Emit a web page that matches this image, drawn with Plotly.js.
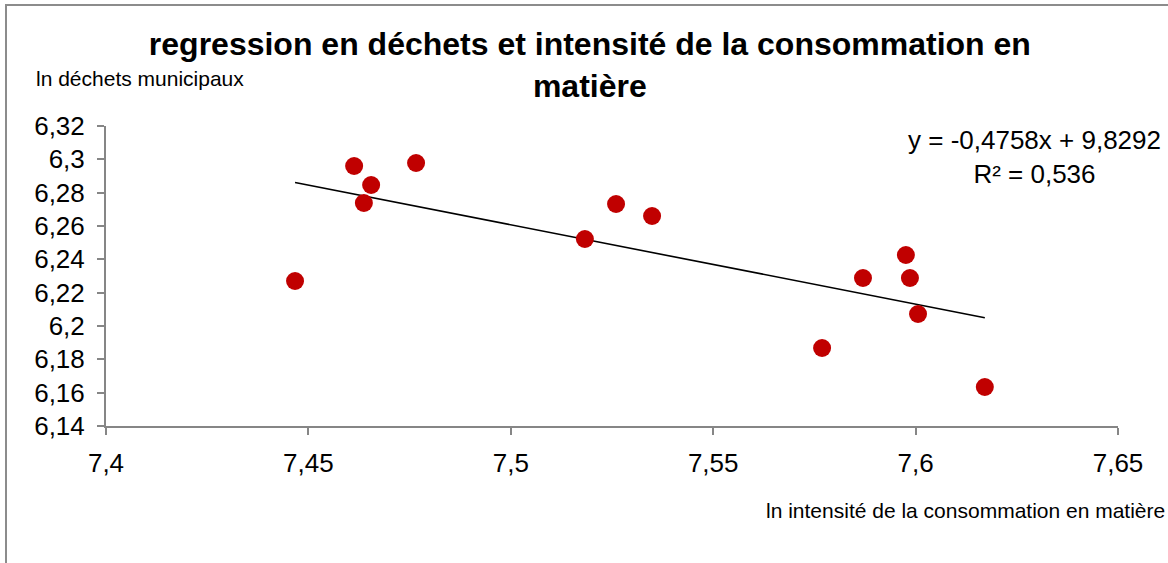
<!DOCTYPE html>
<html>
<head>
<meta charset="utf-8">
<script src="https://cdn.plot.ly/plotly-3.0.1.min.js"></script>
<style>
html,body{margin:0;padding:0;background:#fff;}
#wrap{position:relative;width:1168px;height:563px;overflow:hidden;}
#chart{width:1168px;height:563px;}
#frame{position:absolute;left:5px;top:4px;width:1180px;height:600px;border:2px solid #8c8c8c;pointer-events:none;}
</style>
</head>
<body>
<div id="wrap"><div id="chart"></div><div id="frame"></div></div>
<script>
// Data
var lnIntensite = [7.4467, 7.4613, 7.4637, 7.4655, 7.4766, 7.5183, 7.5260, 7.5349, 7.5769, 7.5870, 7.5976, 7.5986, 7.6006, 7.6171];
var lnDechets   = [6.2270, 6.2960, 6.2738, 6.2846, 6.2978, 6.2522, 6.2732, 6.2660, 6.1868, 6.2288, 6.2426, 6.2288, 6.2072, 6.1634];
var slope = -0.4758;
var intercept = 9.8292;
var equationText = "y = -0,4758x + 9,8292<br>R² = 0,536";
var xTickVals = [7.4, 7.45, 7.5, 7.55, 7.6, 7.65];
var xTickText = ["7,4", "7,45", "7,5", "7,55", "7,6", "7,65"];
var yTickVals = [6.14, 6.16, 6.18, 6.2, 6.22, 6.24, 6.26, 6.28, 6.3, 6.32];
var yTickText = ["6,14", "6,16", "6,18", "6,2", "6,22", "6,24", "6,26", "6,28", "6,3", "6,32"];

var xMin = Math.min.apply(null, lnIntensite);
var xMax = Math.max.apply(null, lnIntensite);
var trendX = [xMin, xMax];
var trendY = trendX.map(function(v){ return slope * v + intercept; });

var FONT = "Liberation Sans, Arial, sans-serif";
var axisColor = "#868686";

var traces = [
  {x: trendX, y: trendY, mode: "lines", type: "scatter",
   line: {color: "#000000", width: 1.6}, hoverinfo: "skip"},
  {x: lnIntensite, y: lnDechets, mode: "markers", type: "scatter",
   marker: {color: "#C00000", size: 18, line: {width: 0}}}
];

var layout = {
  width: 1168, height: 563,
  margin: {l: 106, r: 50, t: 126, b: 137},
  paper_bgcolor: "#ffffff", plot_bgcolor: "#ffffff",
  showlegend: false,
  separators: ", ",
  font: {family: FONT, color: "#000000"},
  title: {
    text: "<b>regression en déchets et intensité de la consommation en<br>matière</b>",
    font: {family: FONT, size: 32, color: "#000"},
    x: 0.505, xanchor: "center", xref: "container",
    y: 1 - 55/563, yanchor: "middle", yref: "container"
  },
  xaxis: {
    range: [7.4, 7.65], tickmode: "array", tickvals: xTickVals, ticktext: xTickText,
    showgrid: false, zeroline: false, showline: true, linecolor: axisColor, linewidth: 2,
    ticks: "outside", ticklen: 7, tickwidth: 2, tickcolor: axisColor,
    tickfont: {family: FONT, size: 26, color: "#000"}, ticklabelstandoff: 6,
    fixedrange: true
  },
  yaxis: {
    range: [6.14, 6.32], tickmode: "array", tickvals: yTickVals, ticktext: yTickText,
    showgrid: false, zeroline: false, showline: true, linecolor: axisColor, linewidth: 2,
    ticks: "outside", ticklen: 7, tickwidth: 2, tickcolor: axisColor,
    tickfont: {family: FONT, size: 26, color: "#000"}, ticklabelstandoff: 7,
    fixedrange: true
  },
  annotations: [
    {text: "ln déchets municipaux", xref: "paper", yref: "paper",
     x: (34-106)/1012, xanchor: "left", y: (426-78)/300, yanchor: "middle",
     showarrow: false, font: {family: FONT, size: 21, color: "#000"}},
    {text: "ln intensité de la consommation en matière", xref: "paper", yref: "paper",
     x: (1167-106)/1012, xanchor: "right", y: (426-511)/300, yanchor: "middle",
     showarrow: false, font: {family: FONT, size: 21, color: "#000"}},
    {text: equationText, xref: "paper", yref: "paper",
     x: (1034-106)/1012, xanchor: "center", y: (426-157)/300, yanchor: "middle",
     align: "center", showarrow: false, font: {family: FONT, size: 26, color: "#000"}}
  ]
};

Plotly.newPlot("chart", traces, layout, {displayModeBar: false, staticPlot: true});
</script>
</body>
</html>
